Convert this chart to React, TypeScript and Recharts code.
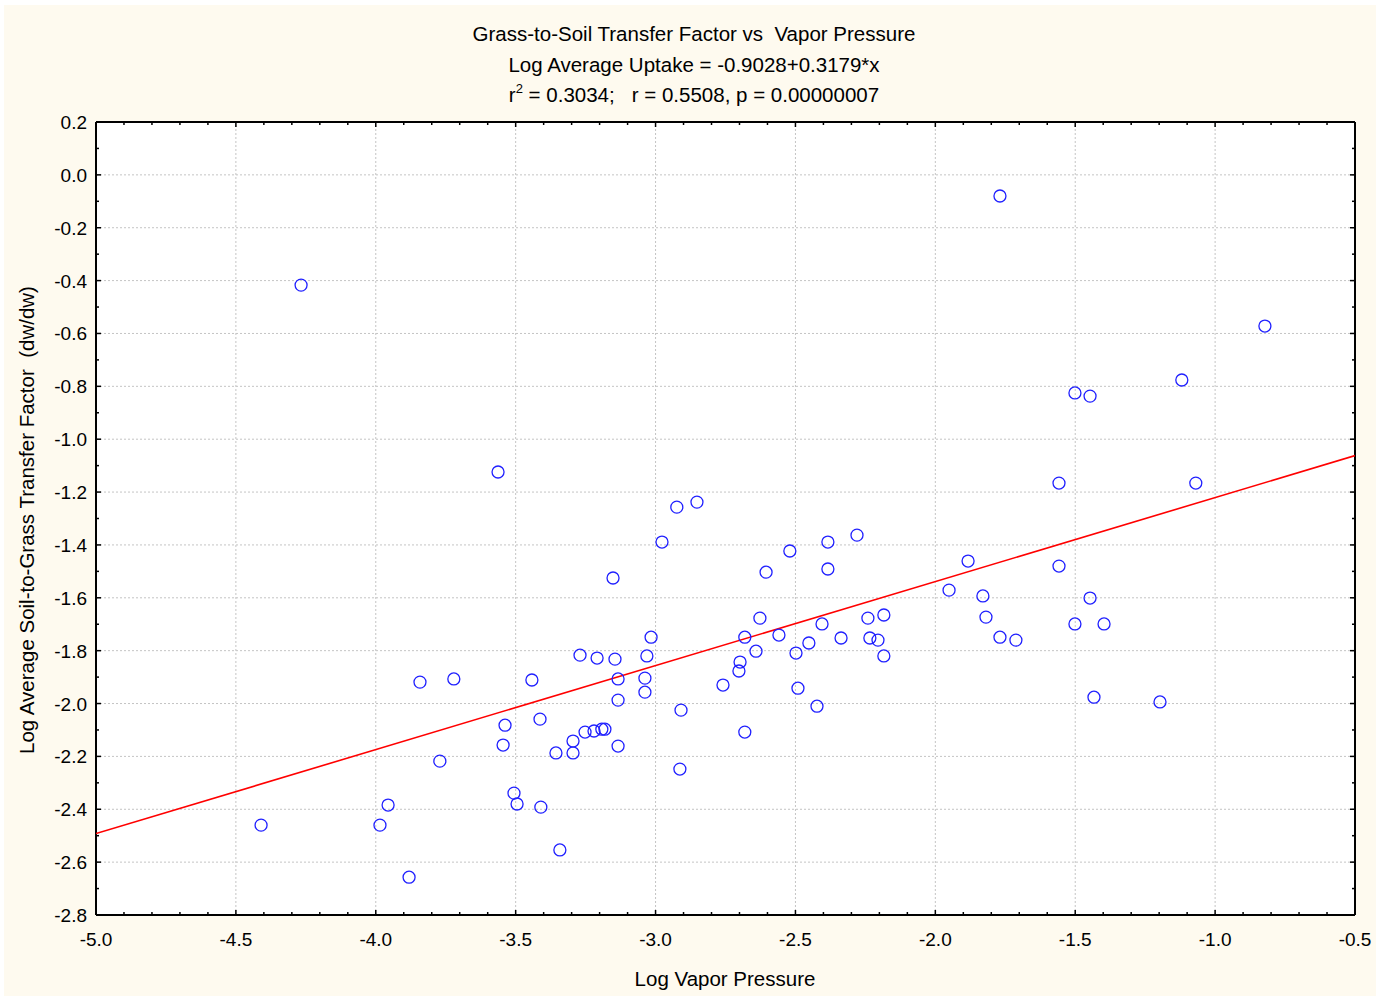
import { ScatterChart, Scatter, XAxis, YAxis, ReferenceLine } from 'recharts';

const vaporPressure = [
  -4.267, -4.41, -3.985, -3.956, -3.881, -3.842, -3.721, -3.771, -3.563, -3.538,
  -3.545, -3.506, -3.495, -3.442, -3.413, -3.41, -3.356, -3.342, -3.295, -3.295,
  -3.27, -3.252, -3.22, -3.192, -3.181, -3.209, -3.152, -3.145, -3.134, -3.134,
  -3.134, -3.038, -3.038, -3.031, -3.016, -2.977, -2.924, -2.852, -2.909, -2.913,
  -2.759, -2.702, -2.698, -2.681, -2.681, -2.641, -2.627, -2.605, -2.559, -2.52,
  -2.498, -2.491, -2.452, -2.423, -2.405, -2.384, -2.384, -2.337, -2.28, -2.241,
  -2.234, -2.205, -2.184, -2.184, -1.951, -1.883, -1.83, -1.819, -1.769, -1.769,
  -1.712, -1.558, -1.558, -1.501, -1.501, -1.447, -1.447, -1.433, -1.397, -1.197,
  -1.119, -1.069, -0.822,
];

const uptake = [
  -0.417, -2.46, -2.46, -2.384, -2.657, -1.919, -1.907, -2.218, -1.124, -2.082,
  -2.157, -2.339, -2.38, -1.911, -2.059, -2.392, -2.187, -2.554, -2.142, -2.187,
  -1.817, -2.108, -2.104, -2.097, -2.097, -1.828, -1.525, -1.832, -1.907, -1.987,
  -2.161, -1.904, -1.957, -1.82, -1.749, -1.389, -1.257, -1.238, -2.025, -2.248,
  -1.93, -1.877, -1.843, -1.749, -2.108, -1.802, -1.677, -1.503, -1.741, -1.423,
  -1.809, -1.942, -1.771, -2.01, -1.699, -1.389, -1.491, -1.752, -1.363, -1.677,
  -1.752, -1.76, -1.665, -1.82, -1.571, -1.461, -1.593, -1.673, -0.08, -1.749,
  -1.76, -1.166, -1.48, -0.825, -1.699, -0.837, -1.601, -1.976, -1.699, -1.994,
  -0.776, -1.166, -0.572,
];

// end points of the fitted line as drawn
const fitX = [-5.0, -0.5];
const fitY = [-2.492, -1.062];

const xMajor = [-5.0, -4.5, -4.0, -3.5, -3.0, -2.5, -2.0, -1.5, -1.0, -0.5];
const yMajor = [0.2, 0.0, -0.2, -0.4, -0.6, -0.8, -1.0, -1.2, -1.4, -1.6, -1.8, -2.0, -2.2, -2.4, -2.6, -2.8];

const points = vaporPressure.map((x, i) => ({ x, y: uptake[i] }));
const fitLine = fitX.map((x, i) => ({ x, y: fitY[i] }));

const r1 = (v: number) => Math.round(v * 10) / 10;
const xTicks: number[] = [];
for (let v = -50; v <= -5; v++) xTicks.push(v / 10);
const yTicks: number[] = [];
for (let v = 2; v >= -28; v--) yTicks.push(v / 10);

const isMajor = (v: number, list: number[]) => list.some((m) => Math.abs(m - v) < 1e-6);

const FONT = '"Liberation Sans", Arial, sans-serif';
const CREAM = '#fefaef';
const BLUE = '#2020ff';

function BottomTick(props: any) {
  const { x, y, payload } = props;
  const major = isMajor(payload.value, xMajor);
  return (
    <g>
      <line x1={x} x2={x} y1={y} y2={y - (major ? 5 : 3)} stroke="#000" strokeWidth={1.5} />
      {major && (
        <text x={x} y={y + 31} textAnchor="middle" fontSize={19} fontFamily={FONT} fill="#000">
          {r1(payload.value).toFixed(1)}
        </text>
      )}
    </g>
  );
}

function TopTick(props: any) {
  const { x, y, payload } = props;
  const major = isMajor(payload.value, xMajor);
  return <line x1={x} x2={x} y1={y} y2={y + (major ? 5 : 3)} stroke="#000" strokeWidth={1.5} />;
}

function LeftTick(props: any) {
  const { x, y, payload } = props;
  const major = isMajor(payload.value, yMajor);
  return (
    <g>
      <line x1={x} x2={x + (major ? 5 : 3)} y1={y} y2={y} stroke="#000" strokeWidth={1.5} />
      {major && (
        <text x={x - 9} y={y + 7} textAnchor="end" fontSize={19} fontFamily={FONT} fill="#000">
          {r1(payload.value).toFixed(1)}
        </text>
      )}
    </g>
  );
}

function RightTick(props: any) {
  const { x, y, payload } = props;
  const major = isMajor(payload.value, yMajor);
  return <line x1={x} x2={x - (major ? 5 : 3)} y1={y} y2={y} stroke="#000" strokeWidth={1.5} />;
}

const ring = (props: any) => (
  <circle cx={props.cx} cy={props.cy} r={6} fill="none" stroke={BLUE} strokeWidth={1.3} />
);
const noDot = () => <g />;

export default function App() {
  const axisLine = { stroke: '#000', strokeWidth: 2 };
  const grid = { stroke: '#c4c4c4', strokeDasharray: '2 2', strokeWidth: 1 };
  return (
    <div
      style={{
        position: 'absolute',
        left: 4,
        top: 5,
        width: 1372,
        height: 991,
        background: CREAM,
        fontFamily: FONT,
      }}
    >
      <div style={{ position: 'absolute', left: 0, width: 1380, top: 14, textAlign: 'center', fontSize: 20.5, lineHeight: '30.5px', color: '#000' }}>
        <div style={{ whiteSpace: 'pre' }}>Grass-to-Soil Transfer Factor vs  Vapor Pressure</div>
        <div>Log Average Uptake = -0.9028+0.3179*x</div>
        <div style={{ whiteSpace: 'pre' }}>
          r<sup style={{ fontSize: 13, verticalAlign: 'top', lineHeight: '18px' }}>2</sup> = 0.3034;   r = 0.5508, p = 0.00000007
        </div>
      </div>
      <div
        style={{
          position: 'absolute',
          left: 23 - 300,
          top: 515,
          width: 600,
          textAlign: 'center',
          fontSize: 20.5,
          lineHeight: '22px',
          whiteSpace: 'pre',
          transform: 'translateY(-11px) rotate(-90deg)',
          transformOrigin: '300px 11px',
        }}
      >
        Log Average Soil-to-Grass Transfer Factor  (dw/dw)
      </div>
      <div style={{ position: 'absolute', left: 421, width: 600, top: 962, textAlign: 'center', fontSize: 20.5 }}>
        Log Vapor Pressure
      </div>
      <ScatterChart
        width={1372}
        height={991}
        margin={{ top: 116, right: 20, bottom: 0, left: 0 }}
        style={{ position: 'absolute', left: 0, top: 0 }}
      >
        <rect x={92} y={117} width={1259} height={793} fill="#fff" />
        <XAxis
          xAxisId="b"
          dataKey="x"
          type="number"
          domain={[-5, -0.5]}
          ticks={xTicks}
          interval={0}
          height={81}
          tickSize={0}
          tickMargin={0}
          axisLine={axisLine}
          tick={BottomTick}
          allowDataOverflow
        />
        <XAxis
          xAxisId="t"
          orientation="top"
          dataKey="x"
          type="number"
          domain={[-5, -0.5]}
          ticks={xTicks}
          interval={0}
          height={1}
          tickSize={0}
          tickMargin={0}
          axisLine={axisLine}
          tick={TopTick}
          allowDataOverflow
        />
        <YAxis
          yAxisId="l"
          dataKey="y"
          type="number"
          domain={[-2.8, 0.2]}
          ticks={yTicks}
          interval={0}
          width={92}
          tickSize={0}
          tickMargin={0}
          axisLine={axisLine}
          tick={LeftTick}
          allowDataOverflow
        />
        <YAxis
          yAxisId="r"
          orientation="right"
          dataKey="y"
          type="number"
          domain={[-2.8, 0.2]}
          ticks={yTicks}
          interval={0}
          width={1}
          tickSize={0}
          tickMargin={0}
          axisLine={axisLine}
          tick={RightTick}
          allowDataOverflow
        />
        {xMajor.slice(1, -1).map((v) => (
          <ReferenceLine key={'gx' + v} x={v} xAxisId="b" yAxisId="l" {...grid} />
        ))}
        {yMajor.slice(1, -1).map((v) => (
          <ReferenceLine key={'gy' + v} y={v} xAxisId="b" yAxisId="l" {...grid} />
        ))}
        <Scatter
          data={fitLine}
          xAxisId="b"
          yAxisId="l"
          line={{ stroke: '#ff0000', strokeWidth: 1.6 }}
          lineType="joint"
          shape={noDot}
          isAnimationActive={false}
        />
        <Scatter data={points} xAxisId="b" yAxisId="l" shape={ring} isAnimationActive={false} />
      </ScatterChart>
    </div>
  );
}
